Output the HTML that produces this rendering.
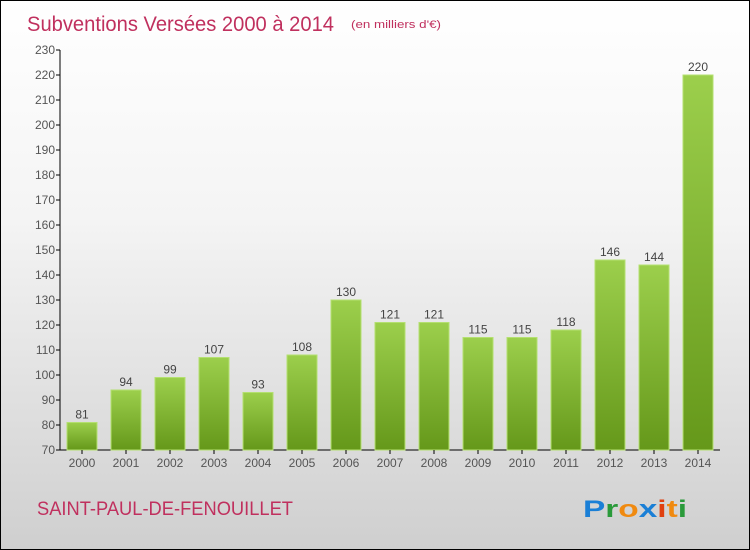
<!DOCTYPE html>
<html><head><meta charset="utf-8"><style>
body{margin:0}
#c{position:relative;width:748px;height:548px;border:1px solid #000;background:linear-gradient(#fff,#f4f4f4 40%,#cfcfcf);font-family:"Liberation Sans",sans-serif;overflow:hidden}
</style></head><body>
<div id="c">
<svg width="748" height="548" xmlns="http://www.w3.org/2000/svg" id="s">
<defs><linearGradient id="g" x1="0" y1="0" x2="0" y2="1"><stop offset="0" stop-color="#9ccf4c"/><stop offset="1" stop-color="#65981a"/></linearGradient></defs>
<text x="26" y="30" font-size="21" fill="#c0305e" textLength="307" lengthAdjust="spacingAndGlyphs">Subventions Versées 2000 à 2014</text>
<text x="350" y="27" font-size="11" fill="#c0305e" textLength="90" lengthAdjust="spacingAndGlyphs">(en milliers d'€)</text>
<text x="36" y="514" font-size="19" fill="#c0305e" textLength="256" lengthAdjust="spacingAndGlyphs">SAINT-PAUL-DE-FENOUILLET</text>
<text x="582" y="516" font-size="24" font-weight="bold" textLength="104" lengthAdjust="spacingAndGlyphs"><tspan fill="#1a7fd6">P</tspan><tspan fill="#2a9a3a">r</tspan><tspan fill="#f08a10">o</tspan><tspan fill="#1a7fd6">x</tspan><tspan fill="#e04010">i</tspan><tspan fill="#f08a10">t</tspan><tspan fill="#2a9a3a">i</tspan></text>
<g id="plot"></g>
</svg></div>
<script>
const categories=["2000","2001","2002","2003","2004","2005","2006","2007","2008","2009","2010","2011","2012","2013","2014"];
const values=[81,94,99,107,93,108,130,121,121,115,115,118,146,144,220];
const ticks=[70,80,90,100,110,120,130,140,150,160,170,180,190,200,210,220,230];
const NS="http://www.w3.org/2000/svg";
const p=document.getElementById('plot');
const y=v=>449-(v-70)*2.5, x=i=>81+i*44;
function mk(t,a,txt){const e=document.createElementNS(NS,t);for(const k in a)e.setAttribute(k,a[k]);if(txt!=null)e.textContent=txt;p.appendChild(e);return e;}
let ax=mk('line',{x1:59,y1:y(230),x2:59,y2:449,stroke:'#000'});


let bx=mk('line',{x1:59,y1:449,x2:719,y2:449,stroke:'#000'});


ticks.forEach(t=>{
 const l=mk('line',{x1:55,x2:59,y1:y(t),y2:y(t),stroke:'#000'});
 
 
 const tx=mk('text',{x:54,y:y(t)+4,'font-size':12,'text-anchor':'end',fill:'#555'},t);
 
 
});
categories.forEach((c,i)=>{
 const v=values[i];
 const r=mk('rect',{x:x(i)-15,y:y(v),width:30,height:449-y(v),fill:'url(#g)',stroke:'#b4e070','stroke-width':1});
 
 
 const vl=mk('text',{x:x(i),y:y(v)-4,'font-size':12,'text-anchor':'middle',fill:'#444'},v);
 
 
 const tl=mk('line',{x1:x(i),x2:x(i),y1:449,y2:453,stroke:'#000'});
 
 
 const xl=mk('text',{x:x(i),y:466,'font-size':12,'text-anchor':'middle',fill:'#555'},c);
 
 
});
</script>
</body></html>
